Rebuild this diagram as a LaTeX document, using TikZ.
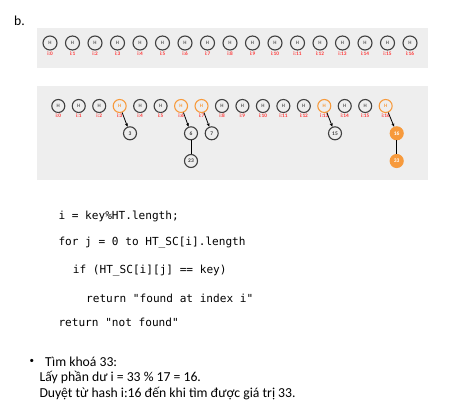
\documentclass[tikz,border=0pt]{standalone}
\usepackage{fontspec}
\setmainfont{Carlito}
\newfontfamily\codefont{DejaVu Sans Mono}
\usetikzlibrary{arrows.meta}
\definecolor{panel}{HTML}{EEEEEE}
\definecolor{ring}{HTML}{404040}
\definecolor{orng}{HTML}{F79A3C}
\definecolor{lbl}{HTML}{FF3B3B}
\begin{document}
\begin{tikzpicture}[x=1pt,y=-1pt,
  hnode/.style={circle,draw=ring,line width=1.1pt,minimum size=14pt,inner sep=0pt,font=\fontsize{5}{5}\selectfont\bfseries,text=ring!85},
  hnodeb/.style={hnode,minimum size=13pt},
  hot/.style={draw=orng,text=orng},
  cnode/.style={circle,draw=ring,line width=1.1pt,minimum size=13pt,inner sep=0pt,font=\fontsize{5.5}{5.5}\selectfont\bfseries,text=ring},
  cfill/.style={cnode,draw=orng,fill=orng,text=white},
  idx/.style={font=\fontsize{5.3}{5.3}\selectfont\bfseries,text=lbl,inner sep=0pt},
  link/.style={draw=black,line width=0.8pt},
  arr/.style={link,-{Stealth[length=3.5pt,width=3pt]}},
  code/.style={anchor=west,inner sep=0pt,font=\codefont\fontsize{11.1}{13}\selectfont},
  txt/.style={anchor=west,inner sep=0pt,font=\fontsize{13.7}{16}\selectfont}]
\useasboundingbox (0,0) rectangle (457,403);
\node[anchor=west,inner sep=0pt,font=\fontsize{13.7}{16}\selectfont] (b) at (14,20.5) {b.};
% panel 1
\fill[panel] (37,28) rectangle (428,68);
\foreach \i in {0,...,16}{
  \node[hnode] (h\i) at ({50+22.5*\i},43) {H};
  \node[idx] (li\i) at ({50+22.5*\i},53.5) {i:\i};
}
% panel 2
\fill[panel] (37,86) rectangle (428,180);
\foreach \i in {0,...,16}{
  \pgfmathsetmacro{\xx}{58.3+20.46*\i}
  \ifnum\i=3 \def\st{hot}\else\ifnum\i=6 \def\st{hot}\else\ifnum\i=7 \def\st{hot}\else\ifnum\i=13 \def\st{hot}\else\ifnum\i=16 \def\st{hot}\else\def\st{}\fi\fi\fi\fi\fi
  \node[hnodeb,\st] (g\i) at (\xx,106) {H};
  \node[idx] (lg\i) at (\xx,115.8) {i:\i};
}
\node[cnode] (c3) at (130,133.3) {3};
\node[cnode] (c6) at (191,133.3) {6};
\node[cnode] (c7) at (211.7,133.3) {7};
\node[cnode] (c23) at (191,161) {23};
\node[cnode] (c15) at (335,133.3) {15};
\node[cfill] (c16) at (396.7,133.3) {16};
\node[cfill] (c33) at (396.7,161) {33};
\draw[arr] (g3) -- (c3);
\draw[arr] (g6) -- (c6);
\draw[arr] (g7) -- (c7);
\draw[arr] (g13) -- (c15);
\draw[arr] (g16) -- (c16);
\draw[link] (c6) -- (c23);
\draw[link] (c16) -- (c33);
% code
\node[code] (l1) at (58.3,216.7) {i = key\%HT.length;};
\node[code] (l2) at (58.3,242.7) {for j = 0 to HT\_SC[i].length};
\node[code] (l3) at (72.7,271) {if (HT\_SC[i][j] == key)};
\node[code] (l4) at (86,298) {return "found at index i"};
\node[code] (l5) at (58.3,322.7) {return "not found"};
% text
\node[txt,font=\fontsize{9}{10}\selectfont] (bul) at (29.5,361.5) {•};
\node[txt] (t1) at (45,361.5) {Tìm khoá 33:};
\node[txt] (t2) at (39.3,377.8) {Lấy phần dư i = 33 \% 17 = 16.};
\node[txt] (t3) at (39.3,394) {Duyệt từ hash i:16 đến khi tìm được giá trị 33.};
\end{tikzpicture}
\end{document}
